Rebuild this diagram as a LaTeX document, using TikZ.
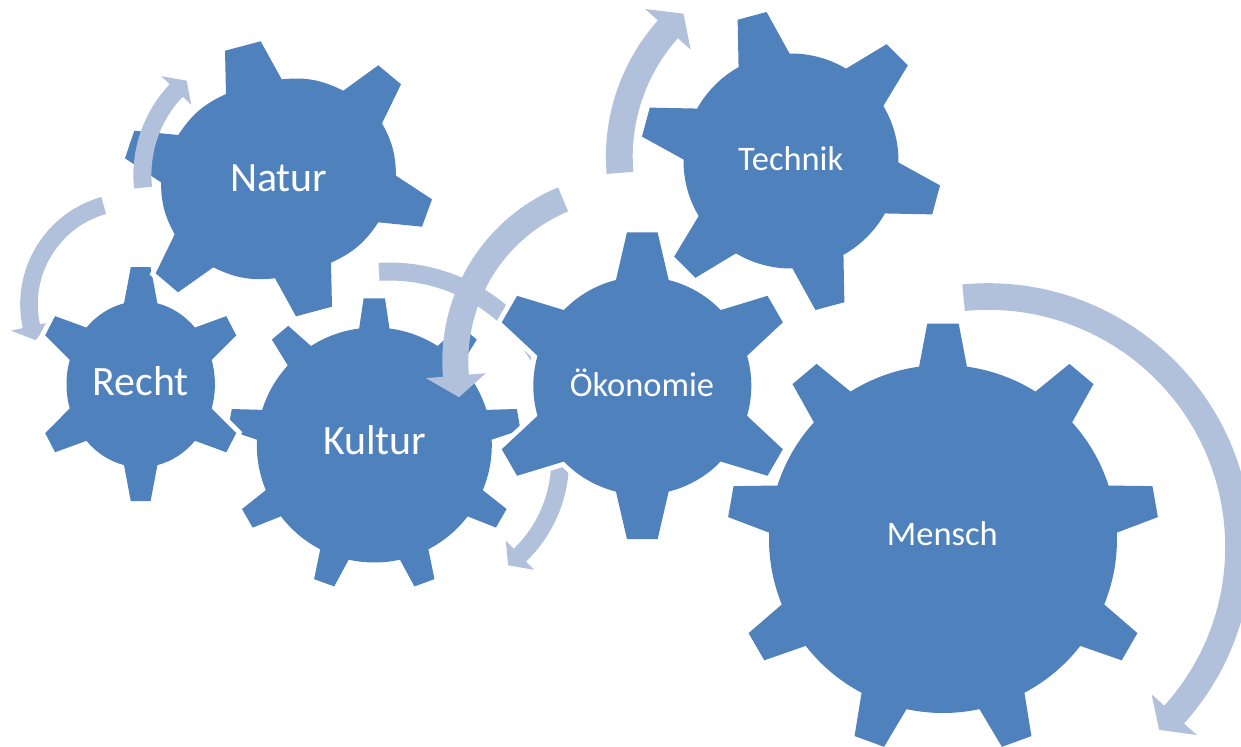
\documentclass[tikz,border=0pt]{standalone}
\usepackage{fontspec}
\setmainfont{Carlito}
\usepackage{tikz}

\definecolor{gearblue}{RGB}{79,129,189}
\definecolor{arrowblue}{RGB}{177,193,220}

% scope options, body radius, tip radius, tip half angle, root half angle, teeth
\newcommand{\gear}[6]{
    \pgfmathsetmacro{\gearstep}{360/#6}
    \begin{scope}[#1]
        \fill[gearfill] ({90+#5}:#2)
            foreach \k [evaluate=\k as \a using {90-(\k-1)*\gearstep},
                        evaluate=\k as \b using {90-(\k-1)*\gearstep-#5},
                        evaluate=\k as \c using {90-\k*\gearstep+#5}] in {1,...,#6} {
                -- ({\a+#4}:#3) -- ({\a-#4}:#3) -- (\b:#2)
                arc[start angle=\b, end angle=\c, radius=#2]
            } -- cycle;
    \end{scope}
}

% centre, mid radius, half width, tail angle, neck angle, half head width, tip angle
\newcommand{\bendarrow}[7]{
    \begin{scope}[shift={(#1)}]
        \fill[arrowfill] (#4:{#2+#3}) arc[start angle=#4, end angle=#5, radius={#2+#3}]
            -- (#5:{#2+#6}) -- (#7:#2) -- (#5:{#2-#6}) -- (#5:{#2-#3})
            arc[start angle=#5, end angle=#4, radius={#2-#3}] -- cycle;
    \end{scope}
}

\begin{document}
\begin{tikzpicture}[
    x=0.02cm, y=0.02cm,
    gearfill/.style={fill=gearblue, line join=round, preaction={draw=white, line width=5.6pt}},
    arrowfill/.style={fill=arrowblue},
    biglabel/.style={anchor=base, text=white, inner sep=0pt, font=\fontsize{23.8}{28}\selectfont},
    smalllabel/.style={anchor=base, text=white, inner sep=0pt, font=\fontsize{19.6}{24}\selectfont}
]
    \useasboundingbox (0,0) rectangle (1241,-747);
    \clip (0,0) rectangle (1241,-747);

    % Mensch
    \gear{shift={(943,-539)}}{174}{216}{4.17}{7.9}{9}
    \bendarrow{988,-547}{250.5}{13.3}{95.6}{-42}{30.4}{-46.9}

    % Kultur
    \gear{shift={(374.3,-445)}}{117.5}{147}{4.17}{7.4}{9}
    \bendarrow{389.3,-444.5}{173}{9}{93.4}{45.5}{9}{43}
    \fill[arrowfill] (523.3,-349.5) -- (531,-356) -- (531,-360.5) -- cycle;

    % Recht
    \bendarrow{131.6,-304.2}{102.6}{8.8}{105.8}{192.4}{20.8}{200.5}
    \gear{shift={(140.7,-384.2)}, xscale=0.894}{83}{117.5}{5.4}{13}{6}

    % Natur
    \fill[gearfill] (225,-50.7) -- (260.7,-41.3) -- (281.7,-79.3)
        to[bend left=16] (343.3,-90.7) -- (378.3,-65.3) -- (401,-84.3) -- (382,-123.3)
        to[bend left=14] (396,-175.7) -- (432,-199.3) -- (422,-226.7) -- (378.3,-222.3)
        to[bend left=16] (331,-262.7) -- (332,-306.7) -- (296,-316.3) -- (275,-278.3)
        to[bend left=16] (213.3,-267.3) -- (178,-292.3) -- (155.7,-273.3) -- (174.7,-234.3)
        to[bend left=14] (161,-182.3) -- (125,-158.3) -- (134.3,-130.7) -- (178.3,-135)
        to[bend left=16] (226,-94) -- cycle;
    \bendarrow{265,-175}{122.6}{9}{185.9}{136.4}{20.7}{129.7}

    % Oekonomie
    \bendarrow{428.5,-460.5}{131.6}{8.9}{-2}{-46}{20.4}{-52.8}
    \gear{shift={(642.3,-385.8)}}{109}{154.2}{5.7}{14}{6}
    \bendarrow{630.8,-361.3}{175.5}{13}{112.7}{184.7}{30}{191.8}

    % Technik
    \gear{shift={(791,-161)}, rotate=15}{107.5}{151}{5.7}{14.2}{6}
    \bendarrow{811,-156.8}{191.7}{13.4}{184.8}{138.3}{30.5}{131.7}

    % Labels
    \node[biglabel] (natur) at (278.7,-191) {Natur};
    \node[biglabel] (recht) at (140.7,-395.7) {Recht};
    \node[biglabel] (kultur) at (374.7,-454) {Kultur};
    \node[smalllabel] (oekonomie) at (642,-396) {Ökonomie};
    \node[smalllabel] (technik) at (790.7,-170.7) {Technik};
    \node[smalllabel] (mensch) at (942.3,-545) {Mensch};

\end{tikzpicture}
\end{document}
